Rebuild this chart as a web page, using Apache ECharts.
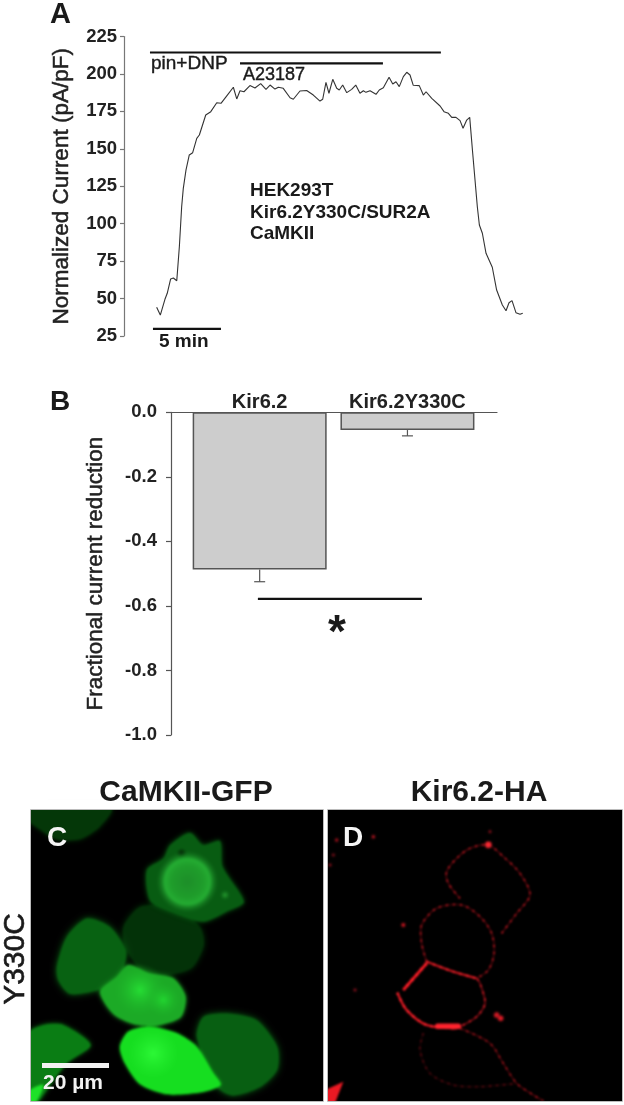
<!DOCTYPE html>
<html>
<head>
<meta charset="utf-8">
<style>
html, body { margin: 0; padding: 0; background: #fff; }
#micro, #main { position: absolute; left: 0; top: 0; width: 624px; height: 1105px; }
#micro { filter: blur(1px); }
</style>
<script src="https://cdn.jsdelivr.net/npm/echarts@6/dist/echarts.min.js"></script>
</head>
<body>
<div id="micro"></div>
<div id="main"></div>
<script>
// panel A, current trace
var trace_time = [2.40,2.67,3.01,3.18,3.43,3.63,3.88,4.07,4.24,4.36,4.56,4.80,5.05,5.35,5.54,6.01,6.38,6.82,7.13,7.60,7.74,8.04,8.29,8.53,8.82,9.26,9.63,10.05,10.44,10.74,11.10,11.35,11.71,12.21,12.45,12.94,13.43,13.92,14.41,14.61,14.85,15.07,15.35,15.64,15.83,16.08,16.38,16.74,17.04,17.35,17.60,17.79,18.09,18.53,18.77,19.07,19.49,19.76,20.00,20.24,20.54,20.79,21.03,21.27,21.71,22.01,22.21,22.63,23.24,23.53,23.85,24.10,24.41,24.71,24.93,25.20,25.42,25.64,25.81,25.98,26.13,26.35,26.62,27.08,27.40,27.82,28.09,28.31,28.53,28.82,29.12,29.32];
var trace_current = [44.2,39.0,49.5,53.5,63.1,63.7,61.9,84.6,111.3,123.6,135.9,145.9,147.4,157.0,159.2,172.6,174.8,180.8,180.4,185.9,185.3,191.1,183.3,188.8,188.1,192.2,190.6,193.5,189.7,192.6,189.9,191.1,190.4,184.1,183.1,188.6,188.9,185.9,181.9,183.1,194.4,187.1,196.4,190.4,189.3,192.6,187.5,189.7,192.6,187.1,188.8,187.7,188.8,186.4,189.3,190.8,197.8,193.3,194.8,191.5,198.2,201.1,199.3,192.4,192.2,185.9,188.1,183.7,178.6,174.8,173.7,171.0,171.0,168.8,163.7,169.2,171.0,147.0,129.2,111.3,99.1,93.6,80.2,70.9,55.7,45.7,41.9,47.2,48.6,40.6,39.5,40.2];
var pin_dnp_time = [1.91, 23.3];
var pin_dnp_level = [214.3, 214.3];
var a23187_time = [8.53, 19.04];
var a23187_level = [207, 207];
var scale_time = [2.13, 7.13];
var scale_level = [29.7, 29.7];

// panel B
var bar_names = ["Kir6.2", "Kir6.2Y330C"];
var bar_pos = [1, 2];
var bar_values = [-0.487, -0.055];
var bar_err_low = [-0.525, -0.073];
var sig_pos = [0.988, 2.098];
var sig_level = [-0.578, -0.578];

function zip(a, b) {
    return a.map(function (v, i) { return [v, b[i]]; });
}

var tick_font = { fontFamily: "Liberation Sans", fontWeight: "bold", fontSize: 18.5, color: "#222" };
var name_font = { fontFamily: "Liberation Sans", fontSize: 22.5, color: "#222", textBorderColor: "#222", textBorderWidth: 0.5 };

var option = {
    animation: false,
    backgroundColor: "transparent",
    textStyle: { fontFamily: "Liberation Sans" },
    grid: [
        { left: 124, top: 36.5, width: 408, height: 299.5 },
        { left: 171, top: 412.3, width: 326, height: 322.7 }
    ],
    xAxis: [
        { gridIndex: 0, type: "value", min: 0, max: 30, show: false },
        {
            gridIndex: 1, type: "value", min: 0.4, max: 2.606, position: "top",
            axisLine: { show: true, onZero: false, lineStyle: { color: "#555", width: 1.2 } },
            axisTick: { show: false }, axisLabel: { show: false }, splitLine: { show: false }
        }
    ],
    yAxis: [
        {
            gridIndex: 0, type: "value", min: 25, max: 225, interval: 25,
            name: "Normalized Current (pA/pF)", nameLocation: "middle", nameGap: 51,
            nameTextStyle: name_font,
            axisLine: { show: true, lineStyle: { color: "#777", width: 1.2 } },
            axisTick: { show: true, length: 4, lineStyle: { color: "#777", width: 1.2 } },
            axisLabel: Object.assign({ margin: 7 }, tick_font),
            splitLine: { show: false }
        },
        {
            gridIndex: 1, type: "value", min: -1, max: 0, interval: 0.2,
            name: "Fractional current reduction", nameLocation: "middle", nameGap: 64,
            nameTextStyle: name_font,
            axisLine: { show: true, lineStyle: { color: "#555", width: 1.2 } },
            axisTick: { show: true, length: 5, lineStyle: { color: "#555", width: 1.2 } },
            axisLabel: Object.assign({
                margin: 14,
                formatter: function (v) { return v.toFixed(1); }
            }, tick_font),
            splitLine: { show: false }
        }
    ],
    series: [
        {
            type: "line", xAxisIndex: 0, yAxisIndex: 0, showSymbol: false, silent: true,
            data: zip(trace_time, trace_current),
            lineStyle: { color: "#333", width: 1.1 }
        },
        {
            type: "line", xAxisIndex: 0, yAxisIndex: 0, showSymbol: false, silent: true,
            data: zip(pin_dnp_time, pin_dnp_level), lineStyle: { color: "#111", width: 2.2 }
        },
        {
            type: "line", xAxisIndex: 0, yAxisIndex: 0, showSymbol: false, silent: true,
            data: zip(a23187_time, a23187_level), lineStyle: { color: "#111", width: 2.2 }
        },
        {
            type: "line", xAxisIndex: 0, yAxisIndex: 0, showSymbol: false, silent: true,
            data: zip(scale_time, scale_level), lineStyle: { color: "#111", width: 2.2 }
        },
        {
            type: "bar", xAxisIndex: 1, yAxisIndex: 1, barWidth: 134, silent: true,
            data: zip(bar_pos, bar_values),
            itemStyle: { color: "#cdcdcd", borderColor: "#555", borderWidth: 1.5 },
            label: {
                show: true, position: "top", distance: 0,
                fontFamily: "Liberation Sans", fontWeight: "bold", fontSize: 20, color: "#222",
                formatter: function (p) { return bar_names[p.dataIndex]; }
            }
        },
        {
            type: "custom", xAxisIndex: 1, yAxisIndex: 1, silent: true,
            data: bar_pos.map(function (p, i) { return [p, bar_values[i], bar_err_low[i]]; }),
            renderItem: function (params, api) {
                var top = api.coord([api.value(0), api.value(1)]);
                var low = api.coord([api.value(0), api.value(2)]);
                var st = { stroke: "#555", lineWidth: 1.2 };
                return {
                    type: "group",
                    children: [
                        { type: "line", shape: { x1: top[0], y1: top[1], x2: low[0], y2: low[1] }, style: st },
                        { type: "line", shape: { x1: low[0] - 5.5, y1: low[1], x2: low[0] + 5.5, y2: low[1] }, style: st }
                    ]
                };
            }
        },
        {
            type: "line", xAxisIndex: 1, yAxisIndex: 1, showSymbol: false, silent: true,
            data: zip(sig_pos, sig_level), lineStyle: { color: "#111", width: 2.2 }
        }
    ],
    graphic: { elements: [] }
};

// helpers for the two micrographs, shapes given in px of the panel
function cpts(list, dx) {
    return list.map(function (p) { return [(dx || 0) + p[0] / 3, 770 + p[1] / 3]; });
}
function blob(list, color, blur) {
    return {
        type: "polygon", silent: true,
        shape: { points: cpts(list), smooth: 0.25 },
        style: { fill: color, shadowColor: color, shadowBlur: blur || 5 }
    };
}
function glow(cx, cy, rx, ry, stops) {
    return {
        type: "ellipse", silent: true,
        shape: { cx: cx / 3, cy: 770 + cy / 3, rx: rx / 3, ry: ry / 3 },
        style: { fill: { type: "radial", x: 0.5, y: 0.5, r: 0.5, colorStops: stops } }
    };
}
function ring(list, width, color, faint) {
    var pts = cpts(list, 320);
    return [
        {
            type: "polyline", silent: true, shape: { points: pts, smooth: 0.3 },
            style: { fill: null, stroke: faint || "rgba(150,12,22,0.6)", lineWidth: width }
        },
        {
            type: "polyline", silent: true, shape: { points: pts, smooth: 0.3 },
            style: { fill: null, stroke: color, lineWidth: width + 0.3, lineDash: [2, 5] }
        }
    ];
}
function dot(x, y, r, color) {
    return {
        type: "circle", silent: true,
        shape: { cx: 320 + x / 3, cy: 770 + y / 3, r: r },
        style: { fill: color, shadowColor: color, shadowBlur: 2 }
    };
}
function txt(text, x, y, size, opts) {
    var o = opts || {};
    return {
        type: "text", silent: true, x: x, y: y, rotation: o.rotation || 0,
        style: {
            text: text, x: 0, y: 0,
            fontFamily: "Liberation Sans", fontWeight: o.weight || "bold", fontSize: size,
            fill: o.color || "#1a1a1a",
            stroke: o.border ? (o.color || "#1a1a1a") : null, lineWidth: o.border || 0,
            textAlign: o.align || "left", textVerticalAlign: "middle"
        }
    };
}

var m = [];

// panel C
m.push({ type: "rect", silent: true, shape: { x: 25, y: 805, width: 300, height: 300 }, style: { fill: "#000" } });
m.push(blob([[85,115],[335,115],[300,170],[240,208],[170,208],[110,172],[85,150]], "rgb(4,55,8)", 5));
m.push(blob([[370,470],[420,410],[520,410],[600,470],[612,525],[575,595],[500,615],[420,595],[375,530]], "rgb(3,50,8)", 6));
m.push(blob([[440,300],[490,265],[510,225],[570,188],[610,225],[660,213],[668,290],[732,395],[680,425],[610,455],[510,425],[450,392]], "rgb(8,92,18)", 5));
m.push(glow(545, 250, 28, 16, [{ offset: 0, color: "rgba(0,18,0,0.95)" }, { offset: 1, color: "rgba(0,30,0,0)" }]));
m.push(glow(562, 335, 100, 94, [
    { offset: 0, color: "rgba(30,145,42,0.95)" }, { offset: 0.5, color: "rgba(32,160,44,0.95)" },
    { offset: 0.72, color: "rgba(36,172,50,1)" }, { offset: 1, color: "rgba(20,110,30,0)" }
]));
m.push(glow(675, 375, 24, 15, [{ offset: 0, color: "rgba(40,165,50,0.9)" }, { offset: 1, color: "rgba(30,130,40,0)" }]));
m.push(blob([[170,590],[200,500],[260,445],[330,470],[378,540],[372,590],[340,642],[290,662],[210,672],[175,632]], "rgb(8,98,18)", 6));
m.push(blob([[300,665],[350,620],[385,585],[450,610],[520,625],[557,680],[542,742],[470,767],[400,762],[340,732]], "rgb(28,170,38)", 4));
m.push(glow(420, 660, 80, 80, [{ offset: 0, color: "rgba(40,235,55,0.8)" }, { offset: 1, color: "rgba(30,180,40,0)" }]));
m.push(glow(490, 690, 52, 58, [{ offset: 0, color: "rgba(35,225,50,0.8)" }, { offset: 1, color: "rgba(30,180,40,0)" }]));
m.push(blob([[590,800],[610,740],[680,730],[770,750],[832,830],[832,900],[780,952],[700,977],[650,950]], "rgb(8,95,18)", 6));
m.push(blob([[360,830],[385,785],[450,770],[530,790],[590,830],[640,910],[662,945],[600,967],[500,972],[420,942],[375,880]], "rgb(22,222,32)", 3));
m.push(glow(460, 850, 100, 75, [{ offset: 0, color: "rgba(50,255,60,0.8)" }, { offset: 1, color: "rgba(40,240,50,0)" }]));
m.push(blob([[85,790],[130,765],[190,765],[272,825],[200,880],[140,960],[110,1000],[85,1000]], "rgb(10,125,20)", 4));
m.push(blob([[85,965],[130,945],[105,1000],[85,1000]], "rgb(30,225,40)", 2));

// panel D
m.push({ type: "rect", silent: true, shape: { x: 326, y: 805, width: 300, height: 300 }, style: { fill: "#000" } });
[
    ring([[420,385],[385,340],[380,305],[410,265],[450,235],[505,225],[550,260],[600,310],[630,375],[590,430],[545,490]], 1.2, "rgb(225,28,38)"),
    ring([[320,575],[305,520],[305,465],[350,415],[425,405],[480,440],[515,490],[522,550],[505,600],[470,625]], 1.2, "rgb(225,28,38)"),
    ring([[320,575],[400,605],[470,625]], 1.8, "rgb(255,35,45)", "rgba(240,25,35,0.95)"),
    ring([[320,580],[285,620],[250,660]], 2.8, "rgb(255,35,45)", "rgba(255,25,35,1)"),
    ring([[232,668],[260,720],[320,765],[410,775]], 2.2, "rgb(255,35,45)", "rgba(240,25,35,1)"),
    ring([[410,775],[470,740],[495,700],[480,640],[470,625]], 1.4, "rgb(235,30,40)", "rgba(180,18,28,0.75)"),
    ring([[420,775],[510,820],[550,880],[590,940],[640,975],[670,993]], 1.1, "rgb(215,25,35)"),
    ring([[310,790],[300,840],[330,910],[400,945],[480,950],[590,940]], 0.9, "rgb(140,15,25)", "rgba(90,10,18,0.5)")
].forEach(function (parts) { parts.forEach(function (p) { m.push(p); }); });
m.push({ type: "rect", silent: true, shape: { x: 435, y: 1023.5, width: 26, height: 5.5, r: 2.5 }, style: { fill: "rgb(255,35,45)" } });
m.push(dot(505, 224, 3, "rgb(245,40,50)"));
m.push(dot(530, 735, 2.5, "rgb(200,25,35)"));
m.push(dot(542, 745, 2.5, "rgb(210,25,35)"));
m.push(dot(250, 465, 1.8, "rgb(190,20,30)"));
m.push(dot(160, 200, 1.5, "rgb(170,20,30)"));
m.push(dot(105, 660, 1.3, "rgb(130,15,25)"));
m.push(dot(510, 185, 1.2, "rgb(140,15,25)"));
m.push(dot(50, 210, 1.5, "rgb(150,15,25)"));
m.push(dot(40, 255, 1.3, "rgb(120,15,25)"));
m.push(dot(30, 285, 1.3, "rgb(130,15,25)"));
m.push({
    type: "polygon", silent: true,
    shape: { points: cpts([[15,960],[70,935],[45,1000],[15,1000]], 320) },
    style: { fill: "rgb(235,25,35)" }
});

var g = option.graphic.elements;

// white gutters and frames on top of the blurred layer
g.push({ type: "rect", silent: true, shape: { x: 0, y: 800, width: 31, height: 305 }, style: { fill: "#fff" } });
g.push({ type: "rect", silent: true, shape: { x: 323, y: 805, width: 5, height: 300 }, style: { fill: "#fff" } });
g.push({ type: "rect", silent: true, shape: { x: 0, y: 1101, width: 624, height: 4 }, style: { fill: "#fff" } });
g.push({ type: "rect", silent: true, shape: { x: 0, y: 800, width: 624, height: 10 }, style: { fill: "#fff" } });
g.push({ type: "rect", silent: true, shape: { x: 622, y: 800, width: 2, height: 305 }, style: { fill: "#fff" } });
g.push({ type: "rect", silent: true, shape: { x: 30.5, y: 809.5, width: 293, height: 292 }, style: { fill: null, stroke: "#bbb", lineWidth: 1 } });
g.push({ type: "rect", silent: true, shape: { x: 327.5, y: 809.5, width: 295, height: 292 }, style: { fill: null, stroke: "#bbb", lineWidth: 1 } });

// scale bar
g.push({ type: "rect", silent: true, shape: { x: 42, y: 1063, width: 67, height: 5 }, style: { fill: "#f2f2f2" } });

// texts
g.push(txt("A", 50, 15, 29));
g.push(txt("B", 50, 402, 28));
g.push(txt("pin+DNP", 151, 64, 19, { weight: "normal", border: 0.4 }));
g.push(txt("A23187", 243, 75, 18, { weight: "normal", border: 0.4 }));
g.push(txt("HEK293T", 250, 190.5, 19));
g.push(txt("Kir6.2Y330C/SUR2A", 250, 212.5, 19));
g.push(txt("CaMKII", 250, 234, 19));
g.push(txt("5 min", 159, 342, 19));
g.push(txt("*", 337, 634, 46, { align: "center" }));
g.push(txt("CaMKII-GFP", 186, 793, 30, { align: "center" }));
g.push(txt("Kir6.2-HA", 479, 793, 30, { align: "center" }));
g.push(txt("Y330C", 16, 959, 30, { align: "center", rotation: Math.PI / 2, weight: "normal", border: 0.6 }));
g.push(txt("C", 57, 838, 28, { align: "center", color: "#f5f5f5" }));
g.push(txt("D", 353, 838, 28, { align: "center", color: "#f5f5f5" }));
g.push(txt("20 µm", 43, 1083, 21, { color: "#f2f2f2" }));

var micro = echarts.init(document.getElementById("micro"));
micro.setOption({ animation: false, graphic: { elements: m } });

var chart = echarts.init(document.getElementById("main"));
chart.setOption(option);
</script>
</body>
</html>
